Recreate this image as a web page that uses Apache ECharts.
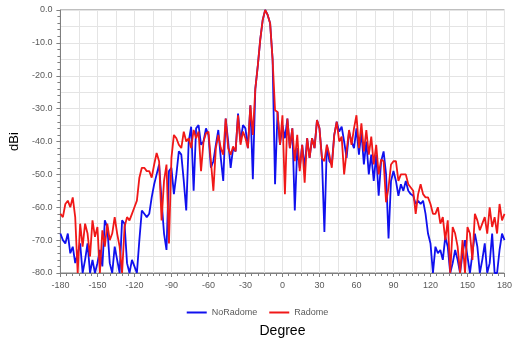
<!DOCTYPE html>
<html>
<head>
<meta charset="utf-8">
<script src="https://cdn.jsdelivr.net/npm/echarts@6/dist/echarts.min.js"></script>
<style>
html,body{margin:0;padding:0;background:#fff;}
#chart{width:515px;height:343px;}
</style>
</head>
<body>
<div id="chart"></div>
<script>
// angle grid, 2 degree step from -180 to 180
var degrees = [];
for (var d = -180; d <= 180; d += 2) degrees.push(d);

// NoRadome (blue), one row = 20 degrees
var noRadome = [
    -68, -70, -71, -68, -74, -72, -77, -74, -71, -80,
    -76, -71, -80, -76, -80, -77, -73, -78, -64, -66,
    -77, -80, -72, -76, -80, -64, -65, -77, -80, -76,
    -78, -80, -70, -61, -62, -63, -62, -57, -53, -50,
    -47, -58, -68, -73, -49, -48, -56, -50, -43, -44,
    -52, -61, -40, -35.5, -55, -36, -35, -41, -40, -36,
    -38, -48, -46, -41, -36.5, -45, -52, -33, -40, -48,
    -42, -43, -31.5, -40, -35, -36, -42, -29, -51.5, -24,
    -17, -9, -3, 0, -1.5, -4, -15, -53, -31, -41,
    -35, -39, -33, -42, -36, -61, -42, -48, -41, -48,
    -39, -45, -39, -42, -33.5, -36, -45, -67.5, -41, -46,
    -47, -38, -34, -37, -35.5, -40, -45, -37, -40, -42,
    -36, -44, -37, -47, -40, -50, -44, -52, -44, -56.5,
    -46, -43, -50, -69.5, -52, -49, -52, -56.5, -53, -55,
    -52, -55, -56, -56.5, -59, -58, -59, -58, -62, -68,
    -71, -80, -72, -74, -73, -76, -69, -72, -80, -77,
    -73, -76, -80, -74, -70, -75, -80, -74, -68, -72,
    -80, -76, -71, -80, -77, -68, -80, -80, -73, -68,
    -70
];

// Radome (red)
var radome = [
    -62, -63, -59, -58, -60, -57, -63, -80, -65, -72,
    -65, -68, -75, -64, -69, -66, -80, -67, -72, -65,
    -70, -68, -63, -68, -72, -80, -66, -63, -64, -62,
    -60, -58, -51, -48, -48, -49, -49, -51, -47, -43.5,
    -46, -64, -52, -47, -71, -45, -38, -39, -41, -42,
    -37, -40, -39, -42, -36.5, -39, -37, -49, -40, -37.5,
    -37, -46, -55, -42, -38, -42, -44, -33, -42, -44,
    -41.5, -43, -32, -41, -37, -39, -42, -29, -38, -24,
    -17, -9, -3, 0, -1.5, -4, -15, -30.5, -31, -41,
    -32, -56, -33, -42, -36, -46, -38, -49, -41, -52.5,
    -39, -45, -39, -42, -33.5, -36, -45, -46, -41, -44,
    -48, -38, -34, -40, -38.5, -50, -43, -36.5, -41, -36,
    -32, -42, -34.5, -43, -36.5, -44, -38.5, -47, -41, -50,
    -45.5, -46, -58.5, -54, -47, -46, -46, -52, -50, -50,
    -50, -53, -54, -55, -62, -56, -53, -56, -57, -57,
    -59, -62, -62, -60, -65, -63, -70, -64, -80, -66,
    -68, -72, -80, -70, -80, -66, -68, -76, -62, -64,
    -67, -65, -63, -68, -60, -66, -63, -68, -59, -64,
    -62
];

var seriesNames = ['NoRadome', 'Radome'];

function pairs(vals) {
    return degrees.map(function (d, i) { return [d, vals[i]]; });
}

var myChart = echarts.init(document.getElementById('chart'));
var option = {
    animation: false,
    grid: {
        left: 59, right: 8, top: 10, bottom: 65,
        show: true, borderColor: '#7f7f7f', borderWidth: 1
    },
    legend: {
        top: 303, left: 'center',
        itemWidth: 20, itemHeight: 2, itemGap: 12,
        icon: 'rect',
        textStyle: { color: '#595959', fontSize: 9, fontFamily: 'Liberation Sans' },
        data: seriesNames
    },
    xAxis: [{
        type: 'value', min: -180, max: 180, interval: 30,
        name: 'Degree', nameLocation: 'middle', nameGap: 51,
        nameTextStyle: { color: '#000', fontSize: 14, fontFamily: 'Liberation Sans' },
        axisLine: { onZero: false, lineStyle: { color: '#7f7f7f' } },
        axisTick: { show: true, inside: false, length: 4, lineStyle: { color: '#7f7f7f' } },
        minorTick: { show: true, splitNumber: 6, length: 3, lineStyle: { color: '#7f7f7f' } },
        axisLabel: { color: '#595959', fontSize: 9, margin: 8, fontFamily: 'Liberation Sans' },
        splitLine: { show: true, lineStyle: { color: '#e4e4e4' } }
    }, {
        type: 'value', min: -180, max: 180, interval: 15, position: 'bottom',
        axisLine: { show: false, onZero: false }, axisTick: { show: false }, axisLabel: { show: false },
        splitLine: { show: true, lineStyle: { color: '#e4e4e4' } }
    }],
    yAxis: [{
        type: 'value', min: -80, max: 0, interval: 10,
        name: 'dBi', nameLocation: 'middle', nameGap: 36,
        nameTextStyle: { color: '#000', fontSize: 13, fontFamily: 'Liberation Sans' },
        axisLine: { show: true, onZero: false, lineStyle: { color: '#7f7f7f' } },
        axisTick: { show: true, length: 4, lineStyle: { color: '#7f7f7f' } },
        minorTick: { show: true, splitNumber: 5, length: 3, lineStyle: { color: '#7f7f7f' } },
        axisLabel: {
            color: '#595959', fontSize: 9, margin: 8, fontFamily: 'Liberation Sans',
            formatter: function (v) { return v.toFixed(1); }
        },
        splitLine: { show: true, lineStyle: { color: '#e4e4e4' } }
    }, {
        type: 'value', min: -80, max: 0, interval: 5, position: 'left',
        axisLine: { show: false, onZero: false }, axisTick: { show: false }, axisLabel: { show: false },
        splitLine: { show: true, lineStyle: { color: '#e4e4e4' } }
    }],
    series: [{
        name: seriesNames[0], type: 'line', data: pairs(noRadome),
        showSymbol: false, symbol: 'none',
        lineStyle: { color: '#1010ee', width: 1.8 }, itemStyle: { color: '#1010ee' }
    }, {
        name: seriesNames[1], type: 'line', data: pairs(radome),
        showSymbol: false, symbol: 'none',
        lineStyle: { color: '#f01818', width: 1.8 }, itemStyle: { color: '#f01818' }
    }]
};
myChart.setOption(option);
window.addEventListener('resize', function () {
    myChart.resize();
});
</script>
</body>
</html>
